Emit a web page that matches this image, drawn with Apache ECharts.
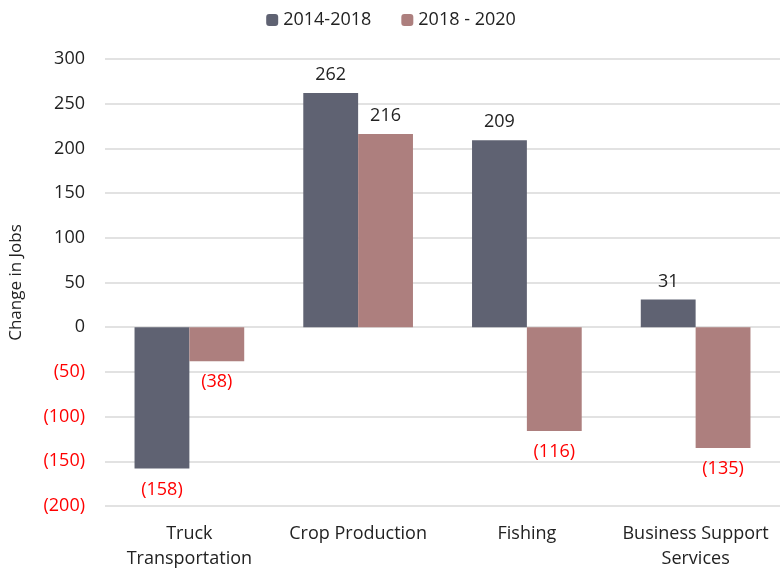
<!DOCTYPE html>
<html>
<head>
<meta charset="utf-8">
<script src="https://cdn.jsdelivr.net/npm/echarts@6/dist/echarts.min.js"></script>
<style>
  html, body { margin: 0; padding: 0; background: #fff; }
  #chart { width: 782px; height: 574px; }
</style>
</head>
<body>
<div id="chart"></div>
<script>
const categories = ['Truck\nTransportation', 'Crop Production', 'Fishing', 'Business Support\nServices']
const seriesNames = ['2014-2018', '2018 - 2020']
const values2014 = [-158, 262, 209, 31]
const values2018 = [-38, 216, -116, -135]

const fontFamily = '"Open Sans", "Liberation Sans", sans-serif'
const fmt = v => (v < 0 ? '(' + Math.abs(v) + ')' : String(v))

// negatives get red labels under the bar end
const toItems = arr => arr.map(v => ({
  value: v,
  label: {
    position: v < 0 ? 'bottom' : 'top',
    distance: v < 0 ? 12 : 9,
    color: v < 0 ? '#ff0000' : '#222'
  }
}))

const chart = echarts.init(document.getElementById('chart'))
chart.setOption({
  animation: false,
  textStyle: { fontFamily },
  legend: {
    top: 6,
    left: 'center',
    itemWidth: 12,
    itemHeight: 12,
    itemGap: 30,
    textStyle: { fontSize: 18, color: '#222', fontFamily },
    data: seriesNames
  },
  grid: { left: 105, right: 2, top: 59, bottom: 68 },
  xAxis: {
    type: 'category',
    data: categories,
    axisLine: { show: false },
    axisTick: { show: false },
    axisLabel: { color: '#222', fontSize: 18, lineHeight: 25, margin: 15, interval: 0, fontFamily }
  },
  yAxis: {
    type: 'value',
    min: -200,
    max: 300,
    interval: 50,
    name: 'Change in Jobs',
    nameLocation: 'middle',
    nameGap: 80,
    nameTextStyle: { color: '#222', fontSize: 17, fontFamily },
    axisLine: { show: false },
    axisTick: { show: false },
    axisLabel: {
      fontSize: 18,
      margin: 20,
      fontFamily,
      formatter: fmt,
      color: v => (Number(v) < 0 ? '#ff0000' : '#222')
    },
    splitLine: { lineStyle: { color: '#d9d9d9', width: 1.5 } }
  },
  series: [
    {
      name: seriesNames[0],
      type: 'bar',
      data: toItems(values2014),
      barGap: '0%',
      barCategoryGap: '35%',
      itemStyle: { color: '#5f6272' },
      label: { show: true, fontSize: 18, fontFamily, formatter: p => fmt(p.value) }
    },
    {
      name: seriesNames[1],
      type: 'bar',
      data: toItems(values2018),
      barGap: '0%',
      barCategoryGap: '35%',
      itemStyle: { color: '#ad7f7e' },
      label: { show: true, fontSize: 18, fontFamily, formatter: p => fmt(p.value) }
    }
  ]
})
</script>
</body>
</html>
